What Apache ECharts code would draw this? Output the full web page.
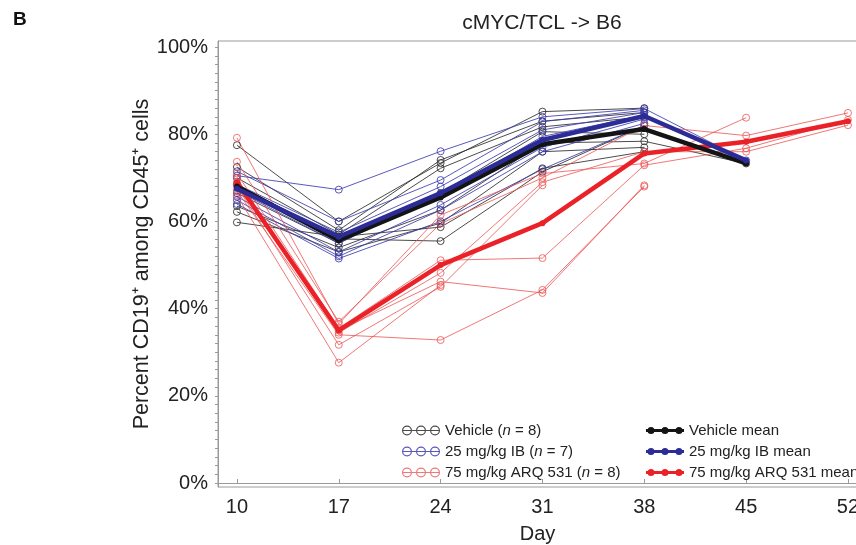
<!DOCTYPE html>
<html><head><meta charset="utf-8">
<script src="https://cdn.jsdelivr.net/npm/echarts@6/dist/echarts.min.js"></script>
<style>html,body{margin:0;padding:0;background:#fff}#c{width:856px;height:545px}</style>
</head><body><div id="c"></div>
<script>
// ---- data (percent CD19+ among CD45+ cells) ----
const days = [10, 17, 24, 31, 38, 45, 52];
const yTicks = [0, 20, 40, 60, 80, 100];

const vehicleMice = [
  [77.5, 60.0, 73.4, 85.2, 86.0, null],
  [72.5, 58.0, 74.1, 83.0, 85.0, null],
  [70.0, 57.0, 72.2, 81.7, 84.0, null],
  [68.5, 56.0, 55.5, 71.4, 82.0, null],
  [66.5, 55.0, 66.5, 80.6, 80.0, null],
  [63.5, 54.0, 62.6, 78.0, 78.4, 73.3],
  [62.2, 53.0, 59.6, 76.0, 77.0, null],
  [59.8, 56.5, 58.7, 72.2, 76.0, null]
];
const ibMice = [
  [70.5, 67.3, 76.1, 84.0, 85.9, 74.0],
  [71.5, 60.0, 69.5, 82.9, 85.5, null],
  [68.5, 57.5, 68.0, 81.0, 85.0, null],
  [67.0, 55.0, 66.0, 79.5, 84.4, null],
  [65.7, 53.0, 63.8, 77.0, 83.5, null],
  [64.9, 52.0, 62.6, 76.0, 82.5, null],
  [64.0, 51.5, 60.0, 72.0, 82.0, null]
];
const arqMice = [
  [79.2, 36.5, 61.5, 71.0, 73.3, 83.8, null],
  [73.7, 37.0, 59.5, 70.0, 82.0, 79.7, 84.9],
  [71.0, 35.5, 51.1, 51.6, 72.9, 76.8, 83.3],
  [70.0, 34.5, 48.2, 69.0, 76.0, 76.0, 82.1],
  [69.0, 35.0, 46.2, 43.6, 68.3, null, null],
  [68.0, 31.7, 45.0, 68.3, null, null, null],
  [67.0, 34.0, 32.8, 44.3, 68.0, null, null],
  [66.0, 27.6, 45.4, null, null, null, null]
];
const vehicleMean = [68.0, 55.7, 65.5, 77.7, 81.2, 73.3];
const ibMean = [67.5, 56.5, 66.5, 78.7, 84.2, 74.0];
const arqMean = [69.0, 35.0, 50.0, 59.6, 75.6, 78.3, 83.0];

const names = {
  veh: 'Vehicle (n = 8)', ib: '25 mg/kg IB (n = 7)', arq: '75 mg/kg ARQ 531 (n = 8)',
  vehM: 'Vehicle mean', ibM: '25 mg/kg IB mean', arqM: '75 mg/kg ARQ 531 mean'
};
const colors = {
  veh: 'rgba(45,45,45,0.85)', ib: 'rgba(60,60,175,0.85)', arq: 'rgba(236,85,85,0.8)',
  vehM: '#141414', ibM: '#2c2c98', arqM: '#ea2228'
};

const FONT = 'Liberation Sans, Arial, sans-serif';
function toPoints(vals) {
  const out = [];
  vals.forEach((v, i) => { if (v !== null) out.push([days[i], v]); });
  return out;
}
function individual(vals, key) {
  return {
    type: 'line', name: names[key], data: toPoints(vals),
    symbol: 'circle', symbolSize: 7, z: 2,
    lineStyle: { color: colors[key], width: 1 },
    itemStyle: { color: 'rgba(255,255,255,0)', borderColor: colors[key], borderWidth: 1 },
    emphasis: { disabled: true }, animation: false
  };
}
function meanSeries(vals, key, z) {
  return {
    type: 'line', name: names[key], data: toPoints(vals),
    symbol: 'circle', symbolSize: 6, z: z,
    lineStyle: { color: colors[key], width: 4.5 },
    itemStyle: { color: colors[key] },
    emphasis: { disabled: true }, animation: false
  };
}
const series = [];
vehicleMice.forEach(v => series.push(individual(v, 'veh')));
ibMice.forEach(v => series.push(individual(v, 'ib')));
arqMice.forEach(v => series.push(individual(v, 'arq')));
series.push(meanSeries(arqMean, 'arqM', 5));
series.push(meanSeries(vehicleMean, 'vehM', 6));
series.push(meanSeries(ibMean, 'ibM', 7));

function ring(cx) {
  return `M${cx-5} 5A5 5 0 1 1 ${cx+5} 5A5 5 0 1 1 ${cx-5} 5Z M${cx-3.8} 5A3.8 3.8 0 1 0 ${cx+3.8} 5A3.8 3.8 0 1 0 ${cx-3.8} 5Z`;
}
function dot(cx) {
  return `M${cx-3.5} 5A3.5 3.5 0 1 1 ${cx+3.5} 5A3.5 3.5 0 1 1 ${cx-3.5} 5Z`;
}
const hollowIcon = 'path://M0 4.4H38V5.6H0Z ' + ring(5) + ' ' + ring(19) + ' ' + ring(33);
const filledIcon = 'path://M0 3.6H38V6.4H0Z ' + dot(5) + ' ' + dot(19) + ' ' + dot(33);

function legendFmt(name) { return name.replace('(n =', '({i|n} ='); }
const legendText = {
  color: '#222', fontSize: 15, fontFamily: FONT, lineHeight: 15,
  rich: { i: { fontStyle: 'italic', fontSize: 15, fontFamily: FONT, color: '#222', lineHeight: 15 } }
};
function legendItem(key, icon) {
  return { name: names[key], icon: icon, itemStyle: { color: colors[key], borderWidth: 0 }, lineStyle: { width: 0 } };
}

const chart = echarts.init(document.getElementById('c'), null, { renderer: 'canvas' });
chart.setOption({
  animation: false,
  backgroundColor: '#fff',
  title: [
    { text: 'B', left: 8, top: 5, textStyle: { fontFamily: FONT, fontSize: 19, fontWeight: 'bold', color: '#111' } },
    { text: 'cMYC/TCL -> B6', left: 537, top: 8, textAlign: 'center',
      textStyle: { fontFamily: FONT, fontSize: 21, fontWeight: 'normal', color: '#222' } }
  ],
  legend: [
    { orient: 'vertical', left: 397, top: 418, itemWidth: 38, itemHeight: 10, itemGap: 6,
      formatter: legendFmt, textStyle: legendText, selectedMode: false,
      data: [legendItem('veh', hollowIcon), legendItem('ib', hollowIcon), legendItem('arq', hollowIcon)] },
    { orient: 'vertical', left: 641, top: 418, itemWidth: 38, itemHeight: 10, itemGap: 6,
      formatter: legendFmt, textStyle: legendText, selectedMode: false,
      data: [legendItem('vehM', filledIcon), legendItem('ibM', filledIcon), legendItem('arqM', filledIcon)] }
  ],
  grid: { left: 218, right: -1, top: 41, bottom: 58, show: true, borderColor: '#9a9a9a', borderWidth: 1,
    containLabel: false, outerBoundsMode: 'none' },
  xAxis: {
    type: 'value', min: 8.7, max: 52.62,
    name: 'Day', nameLocation: 'middle', nameGap: 37, nameMoveOverlap: false,
    nameTextStyle: { fontFamily: FONT, fontSize: 20, color: '#222' },
    axisLine: { show: true, lineStyle: { color: '#9a9a9a', width: 1 } },
    axisTick: { show: true, inside: true, length: 4, customValues: days, lineStyle: { color: '#9a9a9a' } },
    axisLabel: { customValues: days, fontFamily: FONT, fontSize: 20, color: '#222', margin: 10 },
    splitLine: { show: false }
  },
  yAxis: {
    type: 'value', min: -0.92, max: 101.4,
    name: 'Percent CD19\u207A among CD45\u207A cells', nameLocation: 'middle', nameGap: 65, nameMoveOverlap: false,
    nameTextStyle: { fontFamily: FONT, fontSize: 21.5, color: '#222' },
    axisLine: { show: true, lineStyle: { color: '#9a9a9a', width: 1 } },
    axisTick: { show: true, inside: false, length: 3,
      customValues: Array.from({ length: 51 }, (_, i) => i * 2), lineStyle: { color: '#9a9a9a' } },
    axisLabel: { customValues: yTicks, formatter: '{value}%', fontFamily: FONT, fontSize: 20, color: '#222', margin: 10 },
    splitLine: { show: false }
  },
  series: series
});
</script></body></html>
